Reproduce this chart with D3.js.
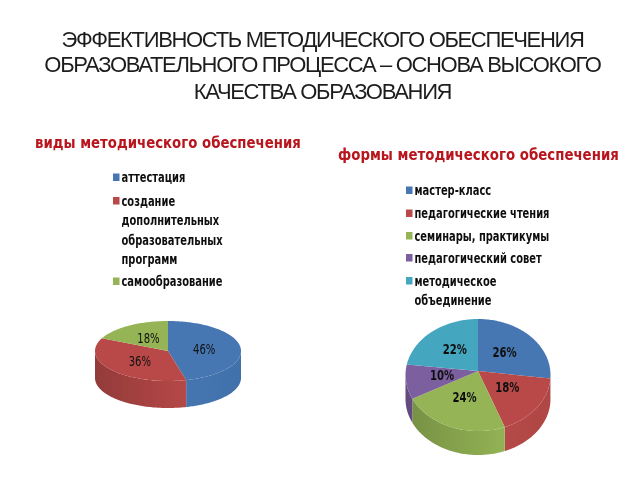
<!DOCTYPE html>
<html><head><meta charset="utf-8">
<script src="https://cdn.jsdelivr.net/npm/d3@7"></script>
<style>html,body{margin:0;background:#fff}svg{display:block}</style></head>
<body><svg id="c" width="640" height="480"></svg>
<script>
const titleLines = ["ЭФФЕКТИВНОСТЬ МЕТОДИЧЕСКОГО ОБЕСПЕЧЕНИЯ","ОБРАЗОВАТЕЛЬНОГО ПРОЦЕССА – ОСНОВА ВЫСОКОГО","КАЧЕСТВА ОБРАЗОВАНИЯ"];
const leftTitle = "виды методического обеспечения";
const rightTitle = "формы методического обеспечения";
const leftCategories = [["аттестация"],["создание","дополнительных","образовательных","программ"],["самообразование"]];
const leftValues = [46,36,18];
const rightCategories = [["мастер-класс"],["педагогические чтения"],["семинары, практикумы"],["педагогический совет"],["методическое","объединение"]];
const rightValues = [26,18,24,10,22];
const palette = ["#4677b3","#b94a48","#94b455","#7b5f9e","#45a6bf"];

const svg = d3.select("#c");
const defs = svg.append("defs");
defs.append("filter").attr("id","soft").attr("filterUnits","userSpaceOnUse").attr("x",0).attr("y",0).attr("width",640).attr("height",480)
  .append("feGaussianBlur").attr("stdDeviation",0.35);
const root = svg.append("g").attr("filter","url(#soft)");
root.append("rect").attr("width",640).attr("height",480).attr("fill","#fff");
const color = d3.scaleOrdinal().domain(d3.range(5)).range(palette);
const FONT = "'DejaVu Sans','DejaVu Sans Condensed',sans-serif";

root.append("g").selectAll("text").data(titleLines).join("text")
  .attr("x",322.5).attr("y",(d,i)=>[47,72,99][i])
  .attr("text-anchor","middle").attr("font-family","'Liberation Sans',Arial,sans-serif")
  .attr("font-size",22).attr("letter-spacing",-1.33).attr("fill","#1f1f1f").text(d=>d);

function heading(t,x,y,w){
  const s = root.append("text").attr("font-family",FONT).attr("font-weight","bold")
    .attr("font-size",16.5).attr("fill","#b8141d").text(t);
  s.attr("transform",`translate(${x},${y}) scale(${w/s.node().getComputedTextLength()},1)`);
}
heading(leftTitle,35,148,266);
heading(rightTitle,338,160,281);

function squeezed(parent,x,y,size,sx,anchor,weight,t){
  return parent.append("text").attr("transform",`translate(${x},${y}) scale(${sx},1)`)
    .attr("text-anchor",anchor).attr("font-family",FONT).attr("font-weight",weight)
    .attr("font-size",size).attr("fill","#111").text(t);
}
function legend(cats,o){
  const g = root.append("g");
  let line = 0;
  cats.forEach((lines,i)=>{
    g.append("rect").attr("x",o.x).attr("y",o.ys[line]-4).attr("width",6.5).attr("height",7.5).attr("fill",color(i));
    lines.forEach(l=>{
      squeezed(g,o.x+8.5,o.ys[line]+4.5,13.5,.735,"start","bold",l);
      line++;
    });
  });
}
legend(leftCategories,{x:113,ys:[177.5,201,220.5,240,259,281.5]});
legend(rightCategories,{x:406,ys:[190.5,213.5,236,258,281,300]});

function pie3d(values,o,id){
  const arcs = d3.pie().sort(null).value(d=>d)(values);
  const pt = a=>[o.cx+o.rx*Math.sin(a), o.cy-o.ry*Math.cos(a)];
  const line = d3.line();
  const g = root.append("g");
  const samples=(a,b)=>{const n=Math.max(2,Math.ceil((b-a)/0.02));return d3.range(n+1).map(k=>a+(b-a)*k/n);};
  arcs.forEach((d,i)=>{
    const a=Math.max(d.startAngle,Math.PI/2), b=Math.min(d.endAngle,Math.PI*1.5);
    if(b<=a) return;
    const gid=`${id}s${i}`, c=d3.color(color(i));
    const gr=defs.append("linearGradient").attr("id",gid).attr("gradientUnits","userSpaceOnUse")
      .attr("x1",o.cx-o.rx).attr("x2",o.cx+o.rx).attr("y1",0).attr("y2",0);
    [[0,.65],[.35,.3],[.65,.05],[1,.15]].forEach(([p,k])=>gr.append("stop").attr("offset",p).attr("stop-color",c.darker(k)));
    const top=samples(a,b).map(pt);
    const bot=top.slice().reverse().map(([x,y])=>[x,y+o.depth]);
    g.append("path").attr("d",line(top.concat(bot))+"Z").attr("fill",`url(#${gid})`);
  });
  arcs.forEach((d,i)=>{
    const pts=[[o.cx,o.ay]].concat(samples(d.startAngle,d.endAngle).map(pt));
    g.append("path").attr("d",line(pts)+"Z").attr("fill",color(i));
  });
  arcs.forEach(d=>{
    const m=(d.startAngle+d.endAngle)/2, f=0.5;
    squeezed(g,o.cx+o.rx*Math.sin(m)*f,o.ay-o.ry*Math.cos(m)*f+5,14,.72,"middle",o.weight,d.value+"%");
  });
}
pie3d(leftValues,{cx:168,cy:351,ay:351,rx:73,ry:30,depth:27,weight:"normal"},"L");
pie3d(rightValues,{cx:478,cy:375,ay:371,rx:72.5,ry:56,depth:24,weight:"bold"},"R");
</script></body></html>
